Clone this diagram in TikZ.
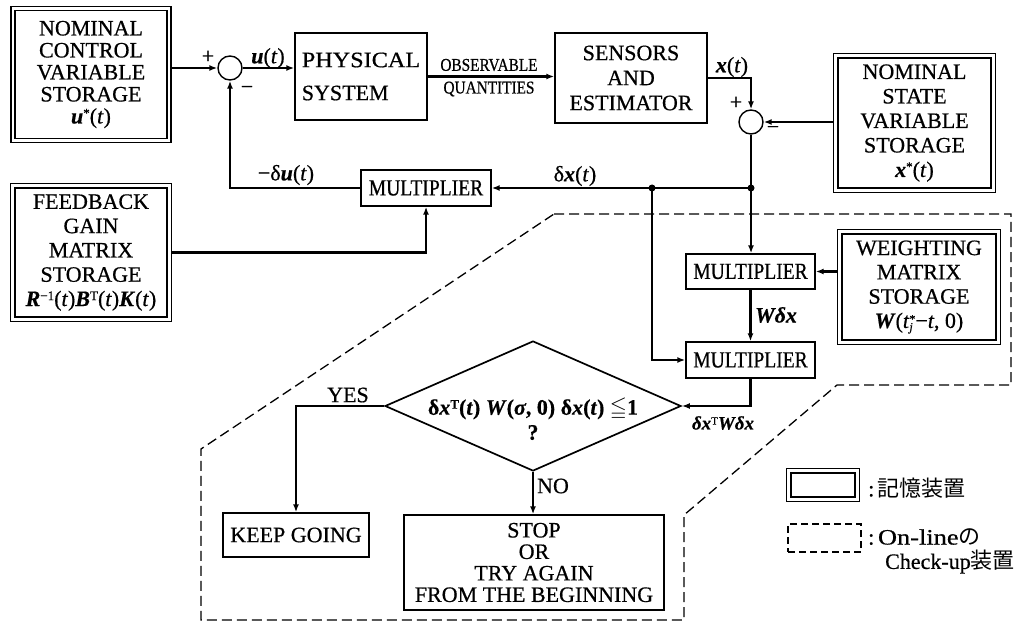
\documentclass[tikz,border=0pt]{standalone}
\usepackage{fontspec}
\setmainfont{Liberation Serif}[FakeBold=0.6]
\newfontfamily\cjk{Noto Sans CJK JP}
\newfontfamily\condfont[FakeStretch=0.85,FakeBold=0.6]{Liberation Serif}
\usepackage{amssymb}
\usetikzlibrary{arrows.meta,shapes.geometric}
\newcommand{\bv}[1]{\textbf{\textit{#1}}}
\newcommand{\sstar}{\raisebox{6pt}{\fontsize{13}{13}\selectfont *}}
\begin{document}
\begin{tikzpicture}[x=1pt,y=-1pt,
  every node/.style={font=\fontsize{22}{22}\selectfont},
  box/.style={draw,line width=1.4pt,inner sep=0pt},
  store/.style={draw,line width=1.5pt,double,double distance=2.6pt,inner sep=0pt,outer sep=2.8pt,align=center},
  sumc/.style={draw,circle,line width=1.4pt,minimum size=24pt,inner sep=0pt},
  conn/.style={line width=2.3pt},
  arr/.style={conn,-{Latex[length=8pt,width=6pt]}},
  lab/.style={inner sep=0pt},
  jdot/.style={circle,fill,inner sep=0pt,minimum size=7pt},
  chk/.style={dashed,dash pattern=on 10pt off 5pt,line width=1.3pt},
  mult/.style={box,font=\condfont\fontsize{23}{23}\selectfont}
]
\useasboundingbox (0,0) rectangle (1021,623);

% storage boxes
\node[store,minimum width=156pt,minimum height=132pt] (ncs) at (91,74.5)
  {NOMINAL\\CONTROL\\VARIABLE\\STORAGE\\\bv{u}\sstar(\textit{t})};
\node[store,minimum width=156.5pt,minimum height=133.5pt,font=\fontsize{22}{24.3}\selectfont] (fgs) at (91,252.5)
  {FEEDBACK\\GAIN\\MATRIX\\STORAGE\\\bv{R}\raisebox{6pt}{\fontsize{13}{13}\selectfont −1}(\textit{t})\bv{B}\raisebox{6pt}{\fontsize{13}{13}\selectfont T}(\textit{t})\bv{K}(\textit{t})};
\node[store,minimum width=157.5pt,minimum height=134.5pt,font=\fontsize{22}{24.5}\selectfont] (nss) at (914.5,123)
  {NOMINAL\\STATE\\VARIABLE\\STORAGE\\\bv{x}\sstar(\textit{t})};
\node[store,minimum width=158.5pt,minimum height=110.5pt,font=\fontsize{22}{24.3}\selectfont] (wms) at (919,287)
  {WEIGHTING\\MATRIX\\STORAGE\\\bv{W}(\textit{t}\rlap{\raisebox{-3pt}{\fontsize{12}{12}\selectfont\textit{j}}}\raisebox{5pt}{\fontsize{12}{12}\selectfont *}−\textit{t}, 0)};

% plain boxes
\node[sumc] (s1) at (230,68) {};
\node[box,minimum width=132pt,minimum height=87pt,align=left,font=\fontsize{22}{33}\selectfont] (phys) at (361,76.5)
  {\scalebox{1.1}[1]{PHYSICAL}\\SYSTEM};
\node[box,minimum width=152pt,minimum height=90pt,align=center,font=\fontsize{22}{25}\selectfont] (sens) at (631,78) {SENSORS\\AND\\ESTIMATOR};
\node[sumc] (s2) at (751,122) {};
\node[mult,minimum width=130pt,minimum height=36pt] (m1) at (426,188) {MULTIPLIER};
\node[mult,minimum width=129pt,minimum height=35pt] (m2) at (750.5,271.5) {MULTIPLIER};
\node[mult,minimum width=129pt,minimum height=36pt] (m3) at (750.5,360) {MULTIPLIER};
\node[draw,diamond,line width=1.7pt,minimum width=296pt,minimum height=130pt,inner sep=0pt] (dia) at (533,406) {};
\node[align=center,font=\bfseries\fontsize{22}{25}\selectfont] (dtx) at (533,419)
  {δ\bv{x}\raisebox{6pt}{\fontsize{13}{13}\selectfont T}(\textit{t}) \bv{W}(\textit{σ}, 0) δ\bv{x}(\textit{t}) $\leqq$1\\?};
\node[box,minimum width=146pt,minimum height=44pt] (keep) at (296,535) {KEEP GOING};
\node[box,minimum width=260pt,minimum height=95pt,align=center,font=\fontsize{22}{21.5}\selectfont] (stop) at (534,562.5)
  {STOP\\OR\\TRY AGAIN\\FROM THE BEGINNING};

% connectors
\coordinate (j1) at (s2.south |- m1);
\coordinate (j2) at (652,188);
\draw[arr] (s1.west -| ncs.east) -- (s1.west);
\draw[arr] (s1.east) -- (s1.east -| phys.west);
\draw[arr] (phys.east) -- (phys.east -| sens.west);
\draw[arr] (sens.east) -| (s2.north);
\draw[arr] (s2.east -| nss.west) -- (s2.east);
\draw[conn] (s2.south) -- (j1);
\draw[arr] (j1) -- (m1.east);
\draw[arr] (m1.west) -| (s1.south);
\draw[arr] (fgs.east) -| (m1.south);
\draw[arr] (j1) -- (j1 |- m2.north);
\draw[arr] (m2.east -| wms.west) -- (m2.east);
\draw[arr] (m2.south) -- (m3.north);
\draw[arr] (j2) |- (m3.west);
\draw[arr] (m3.south) |- (dia.east);
\draw[arr] (dia.west) -| (keep.north);
\draw[arr] (dia.south) -- (dia.south |- stop.north);
\node[jdot] (d1) at (j1) {};
\node[jdot] (d2) at (j2) {};

% labels
\node[lab] (lp1) at (208,57) {+};
\node[lab] (lm1) at (247,90) {−};
\node[lab] (lu) at (268,58) {\bv{u}(\textit{t})};
\node[lab,font=\condfont\fontsize{18}{18}\selectfont] (lobs) at (489,65) {OBSERVABLE};
\node[lab,font=\condfont\fontsize{18}{18}\selectfont] (lqua) at (489,89) {QUANTITIES};
\node[lab] (lx) at (732,67) {\bv{x}(\textit{t})};
\node[lab] (lp2) at (736,103) {+};
\node[lab] (lm2) at (773,130) {−};
\node[lab] (ldx) at (575,176) {δ\bv{x}(\textit{t})};
\node[lab] (ldu) at (286,175) {−δ\bv{u}(\textit{t})};
\node[lab] (lwdx) at (776,315) {\bv{Wδx}};
\node[lab,font=\fontsize{19}{19}\selectfont] (lxwx) at (723,423) {\bv{δx}\raisebox{5pt}{\fontsize{11}{11}\selectfont T}\bv{Wδx}};
\node[lab] (lyes) at (348,395) {YES};
\node[lab] (lno) at (553,486) {NO};

% on-line check-up region
\draw[chk] (554,214) -- (1011,214) -- (1011,385) -- (837,385) -- (684,515) -- (684,620) -- (201,620) -- (201,449) -- cycle;

% legend
\node[store,minimum width=68.5pt,minimum height=28.5pt] (lg1) at (823,485) {};
\node[draw,line width=1.3pt,dashed,dash pattern=on 7pt off 4pt,minimum width=73pt,minimum height=28pt,inner sep=0pt] (lg2) at (824.5,538) {};
\node[lab,anchor=west] (lt1) at (868,488) {:\,{\cjk 記憶装置}};
\node[lab,anchor=west] (lt2) at (868,537) {:\,\scalebox{1.2}[1]{On-line}{\cjk の}};
\node[lab,anchor=west] (lt3) at (885,562) {Check-up{\cjk 装置}};
\end{tikzpicture}
\end{document}
